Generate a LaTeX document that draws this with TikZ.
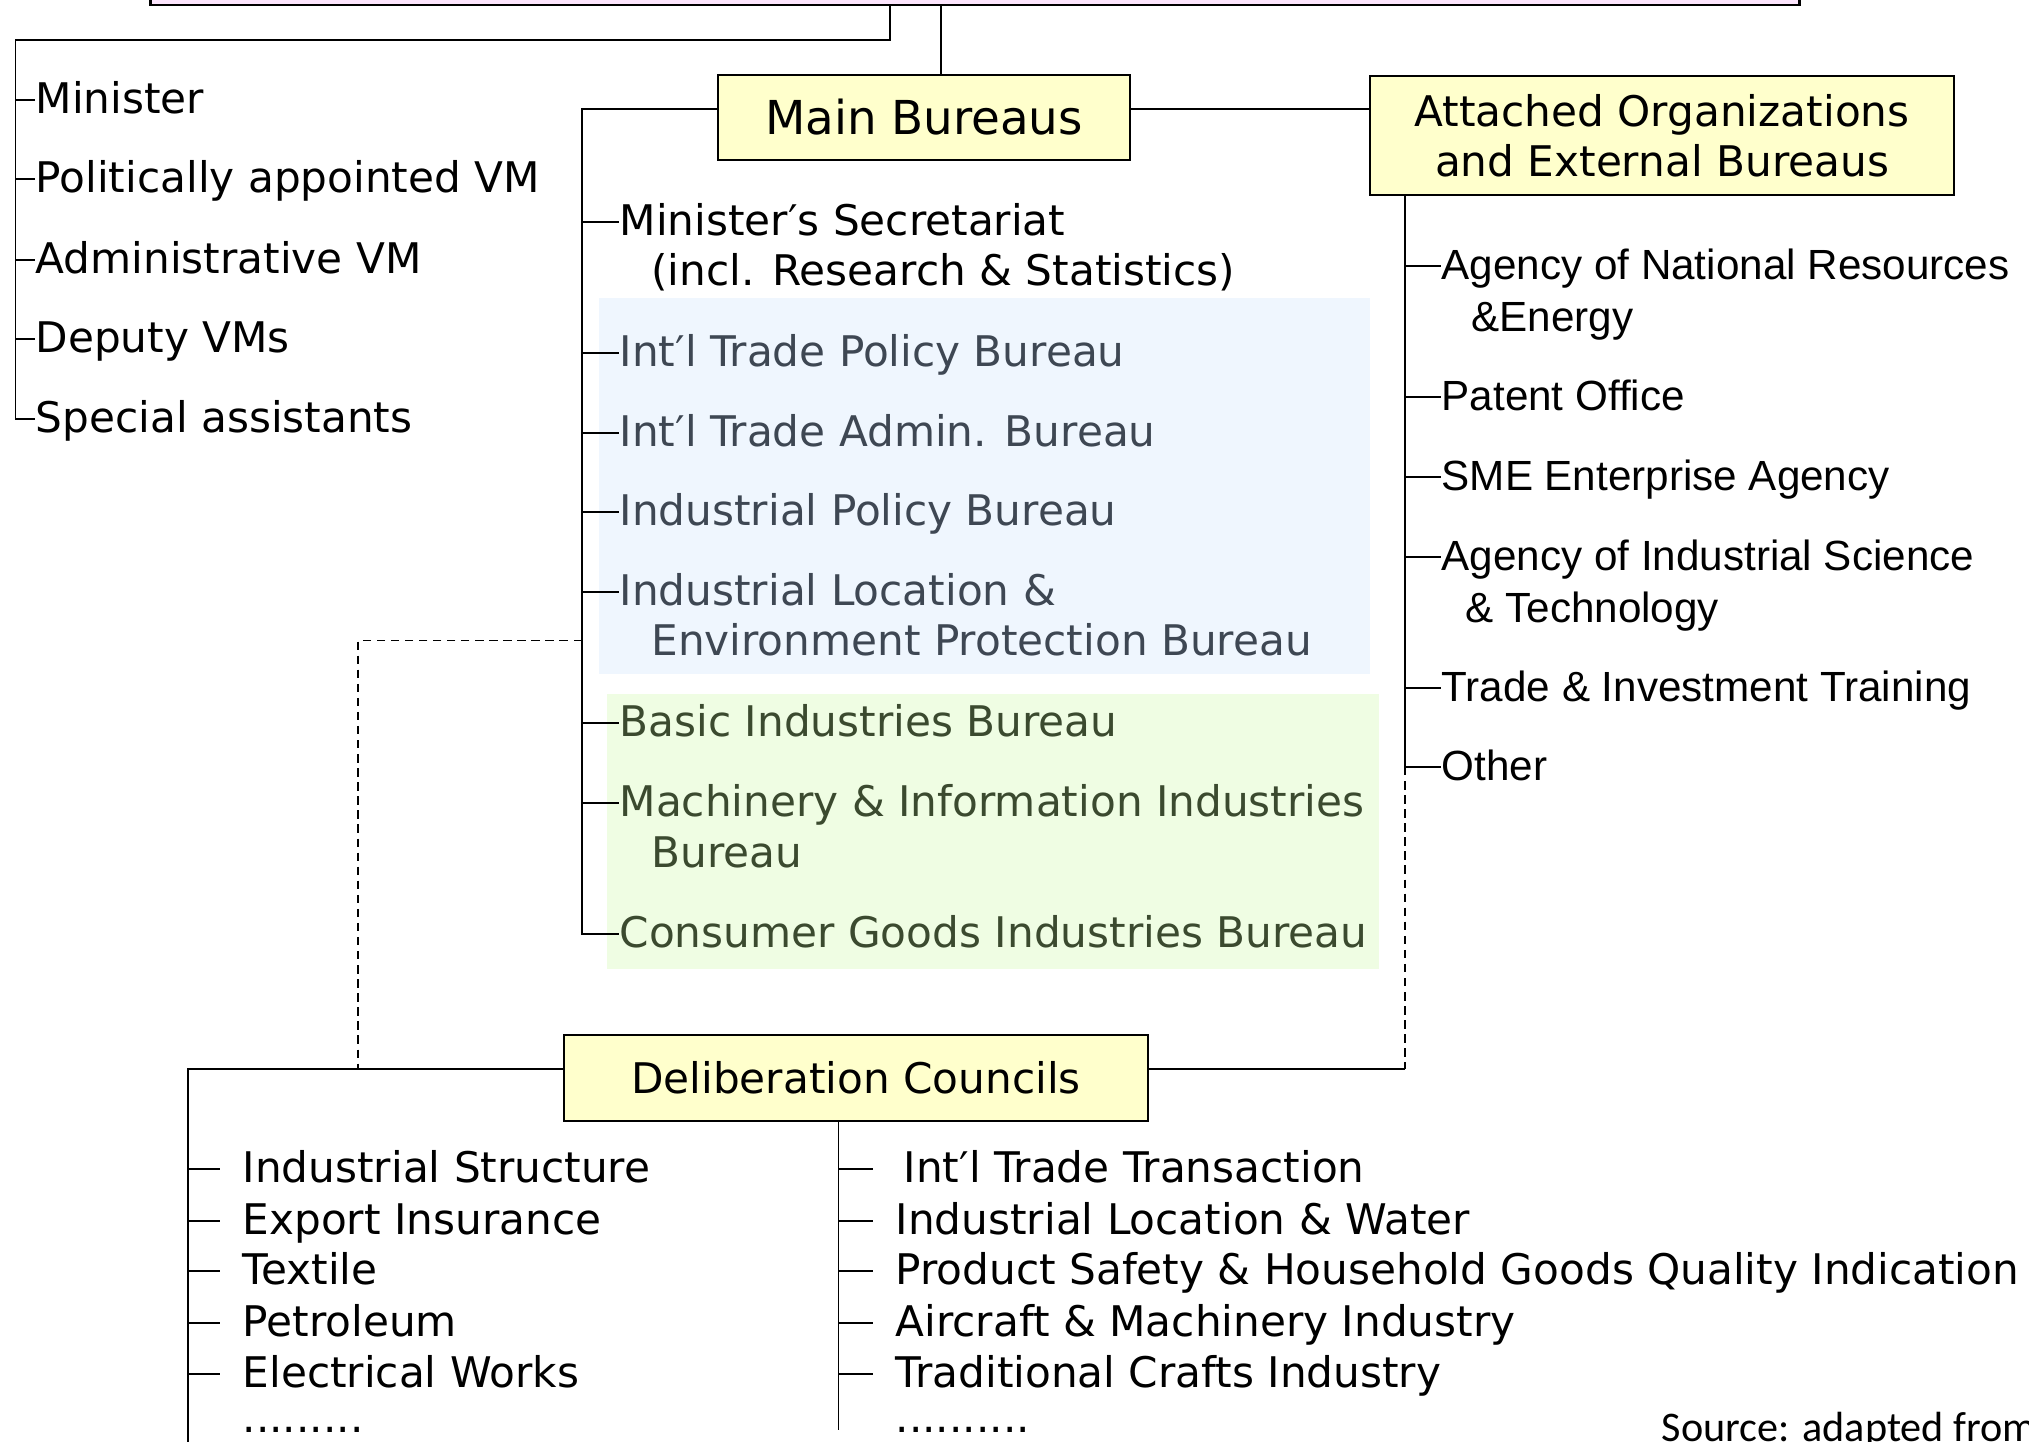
\documentclass[tikz,border=0pt]{standalone}
\usepackage{fontspec}
\setmainfont{DejaVu Sans}
\newfontfamily\orgfont{Liberation Sans}
\newfontfamily\notefont{Carlito}
\usetikzlibrary{calc}
\definecolor{boxyellow}{HTML}{FFFFCC}
\definecolor{boxpink}{HTML}{FCE4FC}
\definecolor{tradeblue}{HTML}{EFF6FE}
\definecolor{indgreen}{HTML}{EFFDE3}
\definecolor{tradetext}{HTML}{3E4753}
\definecolor{indtext}{HTML}{3B4A2F}
\tikzstyle{box}=[draw,fill=boxyellow,line width=0.6pt,inner sep=0pt,align=center,font=\fontsize{12}{14.3}\selectfont]
\tikzstyle{item}=[anchor=base west,inner sep=0pt,font=\fontsize{12}{14.5}\selectfont]
\tikzstyle{orgitem}=[item,font=\orgfont\fontsize{12}{14.8}\selectfont]
\tikzstyle{edge}=[draw,line width=0.5pt]
\tikzstyle{link}=[draw,line width=0.55pt,dash pattern=on 2.4pt off 1.6pt]
% two-line entry, baseline on the first line
\newcommand{\twoline}[2]{\begin{tabular}[t]{@{}l@{}}#1\\#2\end{tabular}}
% stub from a trunk line to an item: trunk, item, gap before the text
\newcommand{\stub}[3]{\draw[edge] ($(#1 |- #2.base west)+(0,-13)$) -- ($(#2.base west)+(-#3,-13)$);}

\begin{document}
\begin{tikzpicture}[x=0.01cm,y=-0.01cm]
\useasboundingbox (0,0) rectangle (2029,1442);
\clip (0,0) rectangle (2029,1442);

% shaded groups of bureaus
\fill[tradeblue] (599,298) rectangle (1370,674);
\fill[indgreen] (607,694) rectangle (1379,969);

% boxes
\node[box,fill=boxpink,anchor=south,minimum width=16.48cm,minimum height=1cm] (ministry) at (975,6) {};
\node[box,minimum width=4.12cm,minimum height=0.85cm] (mainb) at (924,117.5) {\fontsize{13.3}{15}\selectfont Main Bureaus};
\node[box,minimum width=5.84cm,minimum height=1.19cm] (attached) at (1662,135.5) {Attached Organizations\\and External Bureaus};
\node[box,minimum width=5.84cm,minimum height=0.86cm] (councils) at (856,1078) {Deliberation Councils};

\coordinate (execdrop) at (890,40);
\coordinate (execline) at (15.5,40);
\coordinate (maindrop) at (941,75);
\coordinate (bureauline) at (582,109);
\coordinate (orgline) at (1405,195);
\coordinate (cline) at (188,1069);
\coordinate (cbottom) at (188,1460);
\coordinate (cright) at (838.5,1121);
\coordinate (rbottom) at (838.5,1430);
\coordinate (dashcorner) at (358,640.5);

% minister and vice-ministers
\path (35,113) node[item] (minister) {Minister}
  ++(0,79) node[item] (politvm) {Politically appointed VM}
  ++(0,81) node[item] (adminvm) {Administrative VM}
  ++(0,79) node[item] (deputyvm) {Deputy VMs}
  ++(0,80) node[item] (assist) {Special assistants};

% main bureaus
\path (619,235) node[item] (secretariat) {\twoline{Minister′s Secretariat}{\hspace*{9pt}(incl. Research \& Statistics)}}
  ++(0,131) node[item,text=tradetext] (tradepol) {Int′l Trade Policy Bureau}
  ++(0,80) node[item,text=tradetext] (tradeadm) {Int′l Trade Admin. Bureau}
  ++(0,79) node[item,text=tradetext] (indpol) {Industrial Policy Bureau}
  ++(0,80) node[item,text=tradetext] (indloc) {\twoline{Industrial Location \&}{\hspace*{9pt}Environment Protection Bureau}}
  ++(0,131) node[item,text=indtext] (basic) {Basic Industries Bureau}
  ++(0,80) node[item,text=indtext] (machinery) {\twoline{Machinery \& Information Industries}{\hspace*{9pt}Bureau}}
  ++(0,131) node[item,text=indtext] (consumer) {Consumer Goods Industries Bureau};

% attached organizations
\path (1441,279) node[orgitem] (energy) {\twoline{Agency of National Resources}{\hspace*{8.5pt}\&Energy}}
  ++(0,131) node[orgitem] (patent) {Patent Office}
  ++(0,80) node[orgitem] (sme) {SME Enterprise Agency}
  ++(0,80) node[orgitem] (science) {\twoline{Agency of Industrial Science}{\hspace*{6.8pt}\& Technology}}
  ++(0,131) node[orgitem] (training) {Trade \& Investment Training}
  ++(0,79) node[orgitem] (other) {Other};

% councils
\path (242,1182) node[item] (structure) {Industrial Structure}
  ++(0,52) node[item] (export) {Export Insurance}
  ++(0,50) node[item] (textile) {Textile}
  ++(0,52) node[item] (petroleum) {Petroleum}
  ++(0,51) node[item] (electrical) {Electrical Works}
  ++(0,45) node[item] (moreleft) {.........};
\path (903,1182) node[item] (transaction) {Int′l Trade Transaction}
  (895,1234) node[item] (water) {Industrial Location \& Water}
  ++(0,50) node[item] (safety) {Product Safety \& Household Goods Quality Indication}
  ++(0,52) node[item] (aircraft) {Aircraft \& Machinery Industry}
  ++(0,51) node[item] (crafts) {Traditional Crafts Industry}
  ++(0,45) node[item] (moreright) {..........};

\node[anchor=base west,inner sep=0pt,font=\notefont\fontsize{12}{14}\selectfont] (source) at (1661,1441) {Source: adapted from};

% connectors
\draw[edge] (ministry.south -| execdrop) -- (execdrop) -- (execline)
  -- ($(execline |- assist.base west)+(0,-13)$) -- ($(assist.base west)+(0,-13)$);
\foreach \n in {minister,politvm,adminvm,deputyvm} {\stub{execline}{\n}{0}}
\draw[edge] (ministry.south -| maindrop) -- (maindrop |- mainb.north);

\draw[edge] (mainb.west |- bureauline) -- (bureauline)
  -- ($(bureauline |- consumer.base west)+(0,-13)$) -- ($(consumer.base west)+(0,-13)$);
\foreach \n in {secretariat,tradepol,tradeadm,indpol,indloc,basic,machinery} {\stub{bureauline}{\n}{0}}
\draw[edge] (mainb.east |- bureauline) -- (attached.west |- bureauline);

\draw[edge] (attached.south -| orgline) -- ($(orgline |- other.base west)+(0,-13)$) -- ($(other.base west)+(0,-13)$);
\foreach \n in {energy,patent,sme,science,training} {\stub{orgline}{\n}{0}}
\draw[link] ($(orgline |- other.base west)+(0,-13)$) -- (orgline |- cline);
\draw[edge] (orgline |- cline) -- (councils.east |- cline);

\draw[link] (bureauline |- dashcorner) -- (dashcorner) -- (dashcorner |- cline);
\draw[edge] (councils.west |- cline) -- (cline) -- (cbottom);
\foreach \n in {structure,export,textile,petroleum,electrical} {\stub{cline}{\n}{22}}
\draw[edge] (councils.south -| cright) -- (cright |- rbottom);
\stub{cright}{transaction}{30}
\foreach \n in {water,safety,aircraft,crafts} {\stub{cright}{\n}{22}}
\end{tikzpicture}
\end{document}
